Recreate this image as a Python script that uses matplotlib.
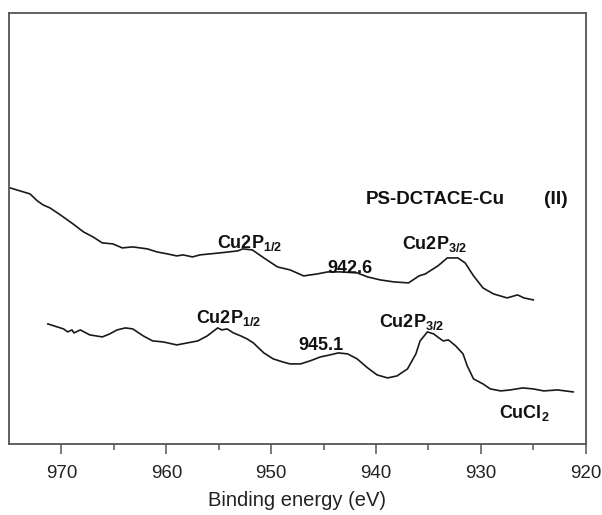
import matplotlib
matplotlib.use("Agg")
import matplotlib.pyplot as plt

plt.rcParams['font.family'] = ['Liberation Sans', 'DejaVu Sans']
plt.rcParams['mathtext.fontset'] = 'custom'
plt.rcParams['mathtext.rm'] = 'Liberation Sans'
plt.rcParams['mathtext.bf'] = 'Liberation Sans:bold'

# Upper spectrum: PS-DCTACE-Cu(II)
upper_be = [974.9, 973.0, 972.3, 971.75, 971.1, 970.1, 968.9, 967.9, 967.0, 966.1,
            965.1, 964.2, 963.2, 961.8, 960.9, 959.9, 959.0, 958.4, 957.5, 956.8,
            954.9, 953.2, 952.7, 951.8, 950.7, 949.4, 948.2, 946.9, 945.6, 944.6,
            943.4, 941.8, 940.8, 939.6, 938.3, 936.9, 935.9, 935.3, 934.1, 933.2,
            932.2, 931.5, 930.7, 929.8, 928.8, 927.5, 926.5, 925.9, 925.0]
upper_int = [256, 250, 243, 239, 236, 229, 220, 212, 207, 201,
             200, 196, 197, 195, 192, 190, 188, 189, 187, 189,
             191, 193, 195, 194, 186, 177, 174, 168, 170, 172,
             172, 171, 167, 164, 162, 161, 168, 170, 178, 186,
             186, 181, 168, 156, 150, 146, 149, 146, 144]

# Lower spectrum: CuCl2
lower_be = [971.3, 969.8, 969.4, 969.0, 968.8, 968.2, 967.3, 966.1, 965.4, 964.7,
            963.9, 963.2, 962.2, 961.3, 960.3, 959.0, 958.0, 957.0, 956.1, 955.1,
            954.7, 954.2, 953.6, 952.9, 952.3, 951.7, 950.7, 949.8, 948.9, 948.2,
            947.2, 946.3, 945.3, 944.4, 943.6, 942.7, 941.8, 940.8, 939.9, 938.9,
            938.0, 937.0, 936.2, 935.8, 935.1, 934.5, 934.0, 933.6, 933.1, 932.4,
            931.7, 931.3, 930.7, 929.8, 929.1, 928.1, 927.2, 926.0, 925.0, 924.0,
            922.7, 921.2]
lower_int = [120, 115, 112, 114, 111, 114, 109, 107, 110, 114,
             116, 115, 108, 103, 102, 99, 101, 103, 108, 116,
             114, 115, 111, 108, 105, 101, 91, 85, 82, 80,
             80, 83, 87, 89, 91, 90, 85, 76, 69, 66,
             68, 75, 90, 103, 112, 110, 106, 103, 104, 98,
             90, 78, 65, 60, 55, 53, 54, 56, 55, 53,
             54, 52]

xticks = [970, 960, 950, 940, 930, 920]

fig = plt.figure(figsize=(6.02, 5.15), dpi=100)
ax = fig.add_axes([0.015, 0.138, 0.958, 0.837])

ax.plot(upper_be, upper_int, color='#1a1a1a', lw=1.2)
ax.plot(lower_be, lower_int, color='#1a1a1a', lw=1.2)

ax.set_xlim(975, 920)
ax.set_ylim(0, 431)
ax.set_yticks([])
ax.set_xticks(xticks)
ax.set_xticks([965, 955, 945, 935, 925], minor=True)
ax.tick_params(axis='x', which='major', direction='out', length=7, width=1.1,
               color='#555555', labelsize=13.5, pad=8, labelcolor='#222222')
ax.tick_params(axis='x', which='minor', direction='out', length=4, width=1.1,
               color='#555555')
for s in ax.spines.values():
    s.set_color('#555555')
    s.set_linewidth(1.3)

ax.set_xlabel('Binding energy (eV)', fontsize=14.5, labelpad=7, color='#222222')

tk = dict(ha='left', va='baseline', fontsize=13, fontweight='bold', color='#111111')
ax.text(955.2, 196, r'Cu2P$_{\mathbf{1/2}}$', **tk)
ax.text(944.6, 171, '942.6', **tk)
ax.text(937.5, 195, r'Cu2P$_{\mathbf{3/2}}$', **tk)
ax.text(957.2, 121, r'Cu2P$_{\mathbf{1/2}}$', **tk)
ax.text(947.4, 94, '945.1', **tk)
ax.text(939.7, 117, r'Cu2P$_{\mathbf{3/2}}$', **tk)
ax.text(928.3, 26, r'CuCl$_{\mathbf{2}}$', **tk)
ax.text(941.0, 240, 'PS-DCTACE-Cu', ha='left', va='baseline', fontsize=13.5,
        fontweight='bold', color='#111111')
ax.text(924.0, 240, '(II)', ha='left', va='baseline', fontsize=14,
        fontweight='bold', color='#111111')

fig.savefig('out.png', dpi=100)
